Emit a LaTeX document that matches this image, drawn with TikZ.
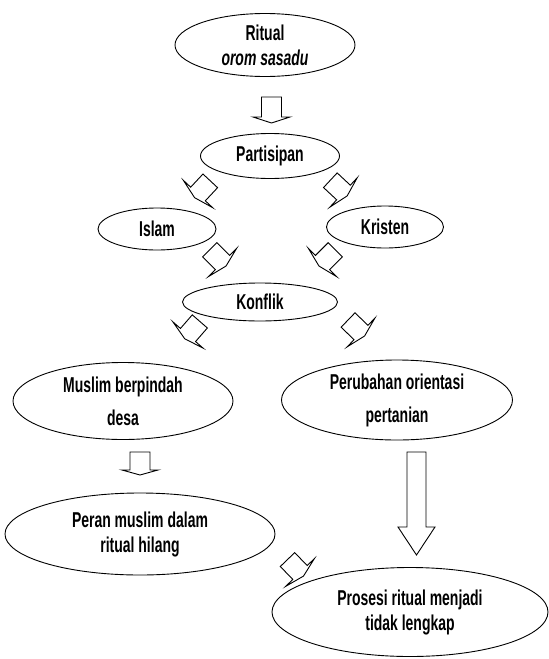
\documentclass[tikz,border=0pt]{standalone}
\usepackage{fontspec}
\setmainfont[FakeStretch=0.65]{Liberation Sans}
\usetikzlibrary{shapes.geometric}
\newcommand{\blkarr}[6]{%
  \draw[blockarr, shift={#1}, rotate=#2] (-#3,-#5) -- (0,-#5) -- (0,-#6) -- (#4,0) -- (0,#6) -- (0,#5) -- (-#3,#5) -- cycle;}
\begin{document}
\begin{tikzpicture}[x=1pt,y=-1pt,
  bub/.style={ellipse, draw, line width=0.9pt, inner sep=0pt, align=center,
    font=\fontsize{21.5}{25}\selectfont\bfseries},
  wide/.style={font=\fontsize{21.5}{33}\selectfont\bfseries},
  blockarr/.style={draw, line width=0.9pt, fill=white, line join=miter}]
\useasboundingbox (0,0) rectangle (549,659);
% nodes
\node[bub, minimum width=180, minimum height=63] (ritual) at (265,45) {Ritual\\\textit{orom sasadu}};
\node[bub, minimum width=139, minimum height=45] (part) at (270,156) {Partisipan};
\node[bub, minimum width=118, minimum height=42] (islam) at (157,229) {Islam};
\node[bub, minimum width=117, minimum height=42] (kristen) at (385,227) {Kristen};
\node[bub, minimum width=155, minimum height=38] (konflik) at (260,302) {Konflik};
\node[bub, wide, minimum width=220, minimum height=77] (muslim) at (123,401) {Muslim berpindah\\desa};
\node[bub, wide, minimum width=231, minimum height=80] (perubahan) at (397,400) {Perubahan orientasi\\pertanian};
\node[bub, minimum width=270, minimum height=82] (peran) at (140,534) {Peran muslim dalam\\ritual hilang};
\node[bub, minimum width=276, minimum height=89] (prosesi) at (410,612) {Prosesi ritual menjadi\\tidak lengkap};
% arrow anchor points (head bases)
\coordinate (v1) at (271.5,117);
\coordinate (aA) at (198,194);
\coordinate (aB) at (343.5,192.5);
\coordinate (aC) at (222.5,262.5);
\coordinate (aD) at (322.5,262.5);
\coordinate (aE) at (188,335);
\coordinate (aF) at (361,332.5);
\coordinate (v2) at (140,470);
\coordinate (v3) at (416.5,527);
\coordinate (aG) at (300,572.5);
% block arrows
\blkarr{(v1)}{-90}{20}{6}{10}{18.5}
\blkarr{(aA)}{-133}{18}{5}{10}{20}
\blkarr{(aB)}{-43}{18}{5}{10}{20}
\blkarr{(aC)}{-45}{18}{5}{10}{20}
\blkarr{(aD)}{-135}{18}{5}{10}{20}
\blkarr{(aE)}{-131}{18}{5}{10}{20}
\blkarr{(aF)}{-44}{18}{5}{10}{20}
\blkarr{(v2)}{-90}{18}{5}{10}{18}
\blkarr{(v3)}{-90}{75}{28}{9.5}{18.5}
\blkarr{(aG)}{-46}{18}{5}{10}{20}
\end{tikzpicture}
\end{document}
